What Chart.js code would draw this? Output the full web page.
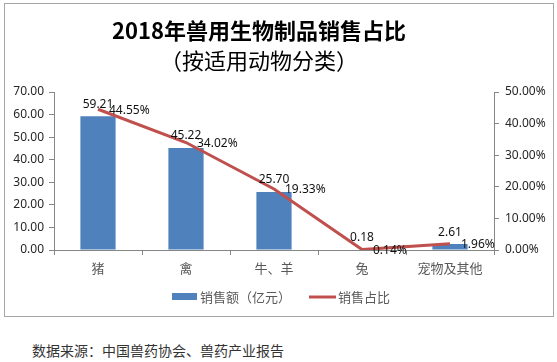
<!DOCTYPE html>
<html>
<head>
<meta charset="utf-8">
<script src="https://cdn.jsdelivr.net/npm/chart.js@4.4.0/dist/chart.umd.min.js"></script>
<style>
  body { margin: 0; background: #fff; width: 557px; height: 362px; position: relative; overflow: hidden; }
  #box { position: absolute; left: 4px; top: 3px; width: 548px; height: 312px; border: 1px solid #a6a6a6; }
  #src { position: absolute; left: 32px; top: 340px; font: 14px "Noto Sans CJK SC", sans-serif; color: #333; }
</style>
</head>
<body>
<div id="box"><canvas id="myChart" width="548" height="312"></canvas></div>
<div id="src">数据来源：中国兽药协会、兽药产业报告</div>
<script>
// 数据
var titleLines = ['2018年兽用生物制品销售占比', '（按适用动物分类）'];
var categories = ['猪', '禽', '牛、羊', '兔', '宠物及其他'];
var sales = [59.21, 45.22, 25.70, 0.18, 2.61];        // 销售额（亿元）
var shares = [44.55, 34.02, 19.33, 0.14, 1.96];       // 销售占比 %
var leftTicks = [0, 10, 20, 30, 40, 50, 60, 70];
var rightTicks = [0, 10, 20, 30, 40, 50];

const numFont = { family: '"Noto Sans", sans-serif', size: 12 };
const cjkFont = '"Noto Sans CJK SC", sans-serif';

// 标题、数据标签、图例
const labelPlugin = {
    id: 'labels',
    afterDatasetsDraw(chart) {
        const ctx = chart.ctx;
        ctx.save();
        ctx.textBaseline = 'middle';
        ctx.textAlign = 'center';
        ctx.fillStyle = '#000';
        ctx.font = 'bold 22px ' + cjkFont;
        ctx.fillText(titleLines[0], 254, 27);
        ctx.font = '22px ' + cjkFont;
        ctx.fillText(titleLines[1], 254, 57);

        ctx.font = '12px "Noto Sans", sans-serif';
        ctx.fillStyle = '#111';
        chart.getDatasetMeta(0).data.forEach((el, i) => {
            ctx.textAlign = 'center';
            ctx.fillText(sales[i].toFixed(2), el.x, el.y - 12);
        });
        chart.getDatasetMeta(1).data.forEach((el, i) => {
            ctx.textAlign = 'left';
            ctx.fillText(shares[i].toFixed(2) + '%', el.x + 11, el.y + 1);
        });

        // 图例
        const y = chart.chartArea.bottom + 46;
        ctx.font = '13px ' + cjkFont;
        let x = 167;
        ctx.fillStyle = '#4F81BD';
        ctx.fillRect(x, y - 3, 25, 7);
        ctx.fillStyle = '#595959';
        const t1 = chart.data.datasets[0].label;
        ctx.fillText(t1, x + 28, y + 1);
        x = x + 28 + ctx.measureText(t1).width + 18;
        ctx.strokeStyle = '#C0504D';
        ctx.lineWidth = 3;
        ctx.beginPath();
        ctx.moveTo(x, y + 1);
        ctx.lineTo(x + 27, y + 1);
        ctx.stroke();
        ctx.fillText(chart.data.datasets[1].label, x + 29, y + 1);
        ctx.restore();
    }
};

const ctx = document.getElementById('myChart').getContext('2d');
const myChart = new Chart(ctx, {
    type: 'bar',
    data: {
        labels: categories,
        datasets: [{
            type: 'bar',
            label: '销售额（亿元）',
            data: sales,
            backgroundColor: '#4F81BD',
            yAxisID: 'y',
            barPercentage: 0.4,
            categoryPercentage: 1,
            order: 1
        }, {
            type: 'line',
            label: '销售占比',
            data: shares,
            borderColor: '#C0504D',
            borderWidth: 3,
            pointRadius: 0,
            tension: 0,
            yAxisID: 'y1',
            order: 0
        }]
    },
    options: {
        responsive: false,
        animation: false,
        layout: { padding: { top: 88, bottom: 38 } },
        plugins: {
            legend: { display: false },
            tooltip: { enabled: false }
        },
        scales: {
            x: {
                grid: { drawOnChartArea: false, tickLength: 5, color: '#868686', offset: true },
                border: { color: '#868686' },
                ticks: { color: '#595959', font: { family: cjkFont, size: 13 }, padding: 5 },
                afterFit(scale) { scale.height = 28; }
            },
            y: {
                position: 'left',
                min: 0, max: 70,
                afterBuildTicks(scale) { scale.ticks = leftTicks.map(v => ({ value: v })); },
                grid: { drawOnChartArea: false, tickLength: 5, color: '#868686' },
                border: { color: '#868686' },
                ticks: { color: '#262626', font: numFont, padding: 5, callback: v => v.toFixed(2) },
                afterFit(scale) { scale.width = 49; }
            },
            y1: {
                position: 'right',
                min: 0, max: 50,
                afterBuildTicks(scale) { scale.ticks = rightTicks.map(v => ({ value: v })); },
                grid: { drawOnChartArea: false, tickLength: 5, color: '#868686' },
                border: { color: '#868686' },
                ticks: { color: '#262626', font: numFont, padding: 6, callback: v => v.toFixed(2) + '%' },
                afterFit(scale) { scale.width = 59; }
            }
        }
    },
    plugins: [labelPlugin]
});
</script>
</body>
</html>
